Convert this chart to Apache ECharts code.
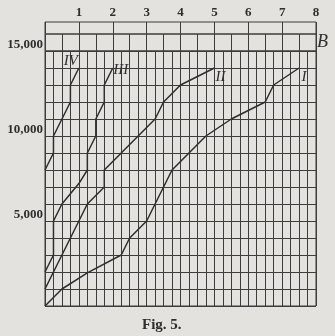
<!DOCTYPE html>
<html>
<head>
<meta charset="utf-8">
<script src="https://cdn.jsdelivr.net/npm/echarts@6/dist/echarts.min.js"></script>
<style>
html,body{margin:0;padding:0;background:#e3e2de;}
#chart{width:335px;height:336px;}
</style>
</head>
<body>
<div id="chart"></div>
<script>
// ---- data ----
const topTickLabels = ['1','2','3','4','5','6','7','8'];
const yLabelValues = [5000, 10000, 15000];
const yLabelTexts = ['5,000', '10,000', '15,000'];
const seriesNames = ['I', 'II', 'III', 'IV'];
const curveI = [[0,0],[0.5,1000],[1.25,1950],[2.25,3000],[2.5,4000],[3,5000],[3.5,7000],[3.75,8000],[4.75,10000],[5.5,11000],[6.5,12000],[6.75,13000],[7.5,14000]];
const curveII = [[0,1000],[1,5000],[1.25,6000],[1.75,7000],[1.75,8000],[3.25,11000],[3.5,12000],[4,13000],[5,14000]];
const curveIII = [[0,2000],[0.25,3000],[0.25,5000],[0.5,6000],[1,7200],[1.25,8000],[1.25,9000],[1.5,10000],[1.5,11000],[1.75,12000],[1.75,13000],[2,14000]];
const curveIV = [[0,8000],[0.25,9000],[0.25,10000],[0.75,12000],[0.75,13000],[1,14000]];
const axisLetter = 'B';
const caption = 'Fig. 5.';

// ---- styling ----
const ink = '#2e2e2e';
const gridInk = '#3d3d3d';
const serif = '"Liberation Serif", "DejaVu Serif", serif';
const curves = [curveI, curveII, curveIII, curveIV];
const labelOffsets = [[5,9],[6,9],[8,2],[-8,-7]];

const chart = echarts.init(document.getElementById('chart'), null, {renderer:'canvas'});

const gridCommon = {left:45, width:271, show:true, borderColor:gridInk, borderWidth:1, backgroundColor:'transparent'};
const hidden = {axisLine:{show:false}, axisTick:{show:false}};
const split = {show:true, lineStyle:{color:gridInk, width:1}};

const option = {
  backgroundColor:'#e3e2de',
  animation:false,
  title:[
    {text:axisLetter, left:317, top:33, padding:0,
     textStyle:{fontFamily:serif, fontStyle:'italic', fontWeight:'normal', fontSize:18, color:ink}},
    {text:caption, left:142, top:318, padding:0,
     textStyle:{fontFamily:serif, fontWeight:'bold', fontSize:15, color:ink}}
  ],
  grid:[
    Object.assign({top:51, height:255}, gridCommon),
    Object.assign({top:34, height:17}, gridCommon),
    Object.assign({top:22, height:12}, gridCommon)
  ],
  xAxis:[
    Object.assign({gridIndex:0, type:'value', min:0, max:8, interval:0.25, axisLabel:{show:false}, splitLine:split}, hidden),
    Object.assign({gridIndex:1, type:'value', min:0, max:8, interval:0.5, axisLabel:{show:false}, splitLine:split}, hidden),
    Object.assign({gridIndex:2, type:'value', position:'top', min:0, max:8, interval:1, splitLine:split,
      axisLabel:{show:true, margin:3, showMinLabel:false, showMaxLabel:true,
        formatter:function(v){ return v>=1 ? topTickLabels[Math.round(v)-1] : ''; },
        fontFamily:serif, fontWeight:'bold', fontSize:13, color:ink}}, hidden)
  ],
  yAxis:[
    Object.assign({gridIndex:0, type:'value', min:0, max:15000, interval:1000, splitLine:split,
      axisLabel:{show:true, margin:2, verticalAlign:'bottom', showMaxLabel:true, showMinLabel:false,
        formatter:function(v){ const i = yLabelValues.indexOf(v); return i>=0 ? yLabelTexts[i] : ''; },
        fontFamily:serif, fontWeight:'bold', fontSize:13, color:ink}}, hidden),
    Object.assign({gridIndex:1, type:'value', min:15000, max:16000, interval:1000, splitLine:{show:false}, axisLabel:{show:false}}, hidden),
    Object.assign({gridIndex:2, type:'value', min:0, max:1, interval:1, splitLine:{show:false}, axisLabel:{show:false}}, hidden)
  ],
  series: curves.map(function(c, i){
    const last = c[c.length-1];
    return {
      name: seriesNames[i], type:'line', xAxisIndex:0, yAxisIndex:0,
      data: c, showSymbol:false, symbol:'none',
      lineStyle:{color:ink, width:1.5},
      markPoint:{
        symbol:'circle', symbolSize:0, silent:true,
        data:[{coord:last, value:seriesNames[i]}],
        label:{show:true, position:'inside', offset:labelOffsets[i], formatter:seriesNames[i],
          fontFamily:serif, fontStyle:'italic', fontSize:15, color:ink}
      }
    };
  })
};
chart.setOption(option);
</script>
</body>
</html>
